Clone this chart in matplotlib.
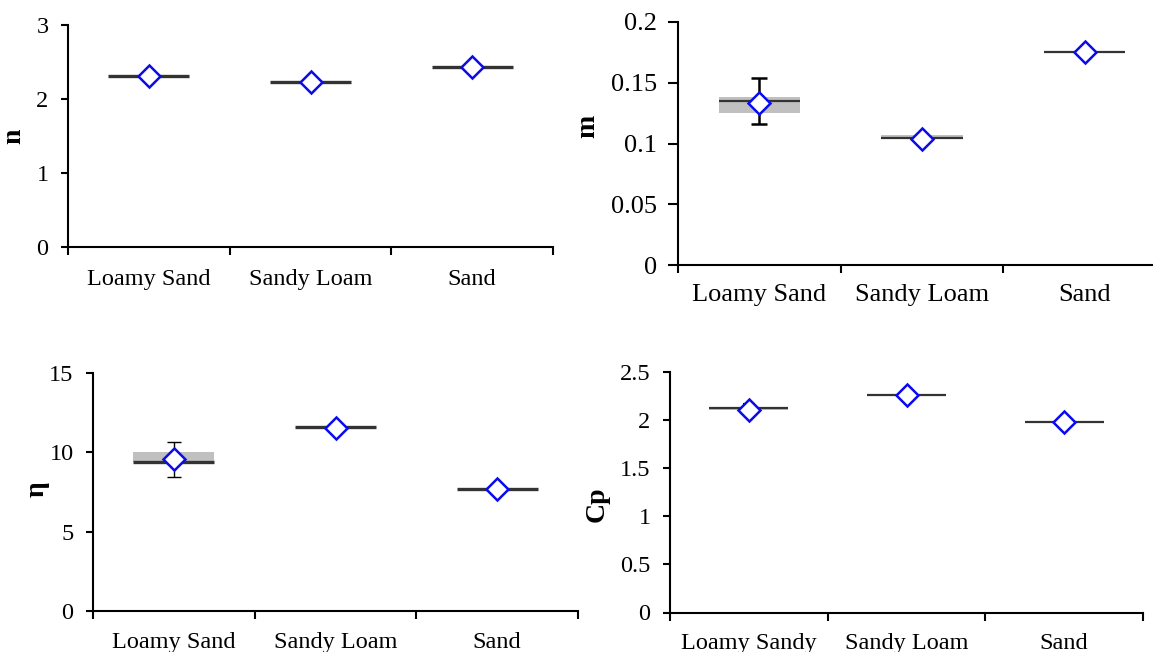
import numpy as np
import matplotlib
matplotlib.use('Agg')
import matplotlib.pyplot as plt

plt.rcParams['font.family'] = ['Liberation Serif', 'DejaVu Serif']

# ── DATA ──────────────────────────────────────────────────
soils_a = ['Loamy Sand', 'Sandy Loam', 'Sand']
soils_b = ['Loamy Sandy', 'Sandy Loam', 'Sand']

# n
n_line = [2.31, 2.23, 2.43]
n_mean = [2.31, 2.23, 2.43]

# m
m_line = [0.135, 0.1047, 0.1755]
m_mean = [0.133, 0.104, 0.1755]
m_box_lo = [0.125, 0.1047, np.nan]
m_box_hi = [0.138, 0.107, np.nan]
m_err_lo = [0.116, np.nan, np.nan]
m_err_hi = [0.154, np.nan, np.nan]

# eta
eta_line = [9.41, 11.57, 7.7]
eta_mean = [9.6, 11.55, 7.68]
eta_box_lo = [9.41, np.nan, np.nan]
eta_box_hi = [10.04, np.nan, np.nan]
eta_err_lo = [8.47, np.nan, np.nan]
eta_err_hi = [10.67, np.nan, np.nan]

# Cp
cp_line = [2.122, 2.264, 1.976]
cp_mean = [2.11, 2.264, 1.976]
cp_box_lo = [2.11, np.nan, np.nan]
cp_box_hi = [2.14, np.nan, np.nan]
cp_err_lo = [2.05, np.nan, np.nan]
cp_err_hi = [2.17, np.nan, np.nan]

BLUE = '#0b0bec'
LINE = '#333333'
BOX = '#c0c0c0'

fig = plt.figure(figsize=(11.53, 6.52), dpi=100, facecolor='white')

W, H = 1153, 652
def pos(l, r, t, b):
    return [l / W, 1 - b / H, (r - l) / W, (b - t) / H]

ax1 = fig.add_axes(pos(68, 553, 25, 247))
ax2 = fig.add_axes(pos(678, 1166, 22, 265))
ax3 = fig.add_axes(pos(93, 578, 373, 611))
ax4 = fig.add_axes(pos(670, 1143, 372, 612.5))


def panel(ax, cats, line, mean, ylim, yticks, ylab, labxy, fs, lw,
          box_lo=None, box_hi=None, err_lo=None, err_hi=None, elw=1.0,
          ticklabels=None, xpad=15, ytl=5, ypad=9, cap=5.5):
    x = np.arange(len(cats))
    if box_lo is not None:
        lo = np.array(box_lo); hi = np.array(box_hi)
        ok = ~np.isnan(lo)
        ax.bar(x[ok], (hi - lo)[ok], bottom=lo[ok], width=0.5,
               color=BOX, edgecolor='none', zorder=1)
    ax.hlines(line, x - 0.25, x + 0.25, colors=LINE, linewidth=lw, zorder=2)
    if err_lo is not None:
        lo = np.array(err_lo); hi = np.array(err_hi); mu = np.array(mean)
        ok = ~np.isnan(lo)
        ax.errorbar(x[ok], mu[ok], yerr=[(mu - lo)[ok], (hi - mu)[ok]],
                    fmt='none', ecolor='black', elinewidth=elw,
                    capsize=cap, capthick=elw, zorder=3)
    ax.plot(x, mean, linestyle='none', marker='D', markersize=11.5,
            markerfacecolor='white', markeredgecolor=BLUE,
            markeredgewidth=1.8, zorder=4)

    ax.set_xlim(-0.5, len(cats) - 0.5)
    ax.set_ylim(*ylim)
    ax.set_yticks(yticks)
    ax.set_yticklabels(ticklabels if ticklabels else [f'{t:g}' for t in yticks],
                       fontsize=fs)
    ax.set_xticks(np.arange(len(cats) + 1) - 0.5)
    ax.set_xticklabels([])
    ax.set_xticks(x, minor=True)
    ax.set_xticklabels(cats, minor=True, fontsize=fs)
    ax.tick_params(axis='x', which='minor', length=0, pad=xpad)
    ax.tick_params(axis='x', which='major', length=6, width=1.5, direction='out')
    ax.tick_params(axis='y', length=ytl, width=1.5, direction='out', pad=ypad)
    for s in ['top', 'right']:
        ax.spines[s].set_visible(False)
    for s in ['left', 'bottom']:
        ax.spines[s].set_linewidth(1.5)
    ax.set_ylabel(ylab, fontsize=20, fontweight='bold')
    ax.yaxis.set_label_coords(*labxy)


panel(ax1, soils_a, n_line, n_mean, (0, 3), [0, 1, 2, 3], 'n',
      (-0.087, 0.5), 17.5, 2.4, xpad=16)
panel(ax2, soils_a, m_line, m_mean, (0, 0.2), [0, 0.05, 0.1, 0.15, 0.2], 'm',
      (-0.16, 0.57), 19, 1.6, m_box_lo, m_box_hi, m_err_lo, m_err_hi, elw=1.8,
      ticklabels=['0', '0.05', '0.1', '0.15', '0.2'], xpad=14, ytl=7, ypad=8)
panel(ax3, soils_a, eta_line, eta_mean, (0, 15), [0, 5, 10, 15], 'η',
      (-0.089, 0.51), 17.5, 2.4, eta_box_lo, eta_box_hi, eta_err_lo, eta_err_hi,
      elw=1.0, xpad=15, cap=5)
panel(ax4, soils_b, cp_line, cp_mean, (0, 2.5), [0, 0.5, 1, 1.5, 2, 2.5], 'Cp',
      (-0.127, 0.45), 17.5, 1.6, cp_box_lo, cp_box_hi, cp_err_lo, cp_err_hi,
      elw=1.5, xpad=15, cap=4)

fig.savefig('out.png', dpi=100, facecolor='white')
